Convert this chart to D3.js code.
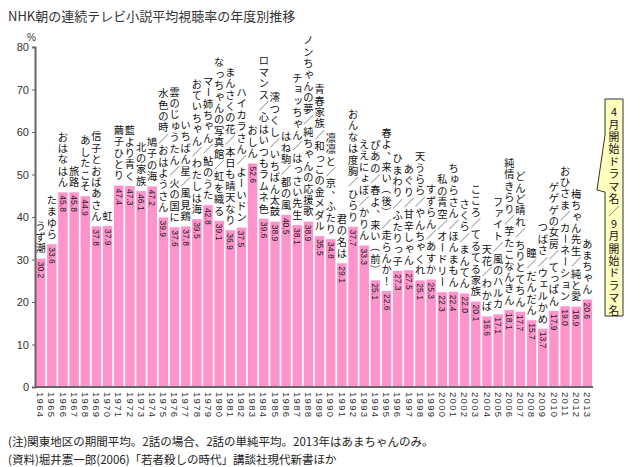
<!DOCTYPE html>
<html>
<head>
<meta charset="utf-8">
<script src="https://cdn.jsdelivr.net/npm/d3@7"></script>
<style>
    body { margin: 0; background: #fff; }
    svg { display: block; font-family: "Noto Sans CJK JP", sans-serif; }
</style>
</head>
<body>
<svg id="chart" width="640" height="467"></svg>
<script>
// 年度
const years = ['1964','1965','1966','1967','1968','1969','1970','1971','1972','1973',
    '1974','1975','1976','1977','1978','1979','1980','1981','1982','1983',
    '1984','1985','1986','1987','1988','1989','1990','1991','1992','1993',
    '1994','1995','1996','1997','1998','1999','2000','2001','2002','2003',
    '2004','2005','2006','2007','2008','2009','2010','2011','2012','2013'];

// 平均視聴率 (%)
const ratings = [30.2, 33.6, 45.8, 45.8, 44.9, 37.8, 37.9, 47.4, 47.3, 46.1,
    47.2, 39.9, 37.6, 37.8, 39.5, 42.8, 39.1, 36.9, 37.5, 52.6,
    39.6, 38.9, 40.5, 38.1, 38.9, 35.5, 34.8, 29.1, 37.7, 33.3,
    25.1, 22.6, 27.3, 27.5, 25.1, 25.3, 22.3, 22.4, 22.0, 20.1,
    16.6, 17.1, 18.1, 17.7, 15.7, 13.7, 17.9, 19.0, 18.9, 20.6];

// ドラマ名
const dramas = ['うず潮','たまゆら','おはなはん','旅路','あしたこそ','信子とおばあさん','虹',
    '繭子ひとり','藍より青く','北の家族','鳩子の海','水色の時／おはようさん',
    '雲のじゅうたん／火の国に','いちばん星／風見鶏','おていちゃん／わたしは海',
    'マー姉ちゃん／鮎のうた','なっちゃんの写真館／虹を織る','まんさくの花／本日も晴天なり',
    'ハイカラさん／よーいドン','おしん','ロマンス／心はいつもラムネ色','澪つくし／いちばん太鼓',
    'はね駒／都の風','チョッちゃん／はっさい先生','ノンちゃんの夢／純ちゃんの応援歌',
    '青春家族／和っこの金メダル','凛凛と／京、ふたり','君の名は','おんなは度胸／ひらり',
    'ええにょぼ／かりん','ぴあの／春よ、来い（前）','春よ、来い（後）／走らんか！',
    'ひまわり／ふたりっ子','あぐり／甘辛しゃん','天うらら／やんちゃくれ','すずらん／あすか',
    '私の青空／オードリー','ちゅらさん／ほんまもん','さくら／まんてん','こころ／てるてる家族',
    '天花／わかば','ファイト／風のハルカ','純情きらり／芋たこなんきん','どんど晴れ／ちりとてちん',
    '瞳／だんだん','つばさ／ウェルかめ','ゲゲゲの女房／てっぱん','おひさま／カーネーション',
    '梅ちゃん先生／純と愛','あまちゃん'];

const yTicks = [0, 10, 20, 30, 40, 50, 60, 70, 80];

const title = 'NHK朝の連続テレビ小説平均視聴率の年度別推移';
const legendText = '4月開始ドラマ名／9月開始ドラマ名';
const notes = [
    '(注)関東地区の期間平均。2話の場合、2話の単純平均。2013年はあまちゃんのみ。',
    '(資料)堀井憲一郎(2006)「若者殺しの時代」講談社現代新書ほか'
];

const svg = d3.select('#chart');
const margin = { left: 35, right: 47, top: 47, bottom: 80 };
const width = 640, height = 467;

const x = d3.scaleBand()
    .domain(years)
    .range([margin.left, width - margin.right])
    .paddingInner(0.15)
    .paddingOuter(0.08);

const y = d3.scaleLinear()
    .domain([0, 80])
    .range([height - margin.bottom, margin.top]);

// vertical (tategaki) text, one glyph per <text>
const rotateChars = 'ー（）';
const smallKana = 'ぁぃぅぇぉっゃゅょァィゥェォッャュョ';
function drawVertical(g, chars, cx, top, step, size) {
    g.selectAll('text')
        .data(Array.from(chars))
        .join('text')
        .attr('text-anchor', 'middle')
        .attr('dominant-baseline', 'central')
        .style('font-size', size + 'px')
        .attr('transform', (c, k) => {
            let px = cx, py = top + (k + 0.5) * step;
            if (c === '、') { px += size * 0.55; py -= size * 0.55; }
            if (smallKana.includes(c)) { px += size * 0.1; py -= size * 0.1; }
            const rot = rotateChars.includes(c) ? ' rotate(90)' : '';
            return `translate(${px},${py})${rot}`;
        })
        .text(c => c);
}

// title
svg.append('text')
    .attr('x', 8)
    .attr('y', 21)
    .style('font-size', '13px')
    .style('fill', '#333')
    .text(title);

// bars
svg.selectAll('rect.bar')
    .data(ratings)
    .join('rect')
    .attr('class', 'bar')
    .attr('x', (d, i) => x(years[i]))
    .attr('y', d => y(d))
    .attr('width', x.bandwidth())
    .attr('height', d => y(0) - y(d))
    .attr('fill', '#ff93cb');

// value labels
svg.selectAll('text.value')
    .data(ratings)
    .join('text')
    .attr('class', 'value')
    .attr('transform', (d, i) => `translate(${x(years[i]) + x.bandwidth() / 2},${y(d) + 3}) rotate(90)`)
    .attr('dy', '0.35em')
    .style('font-family', '"Liberation Sans", Arial, sans-serif')
    .style('font-size', '8.5px')
    .style('fill', '#222')
    .text(d => d.toFixed(1));

// drama names: column ends 5px above the bar
const charStep = 11.4;
svg.selectAll('g.drama')
    .data(dramas)
    .join('g')
    .attr('class', 'drama')
    .style('fill', '#111')
    .each(function(d, i) {
        const n = Array.from(d).length;
        const top = y(ratings[i]) - 5 - n * charStep;
        drawVertical(d3.select(this), d, x(years[i]) + x.bandwidth() / 2, top, charStep, 10.2);
    });

// y axis
const yAxis = d3.axisLeft(y)
    .tickValues(yTicks)
    .tickSize(3)
    .tickPadding(3);

const gy = svg.append('g')
    .attr('transform', `translate(${margin.left},0)`)
    .call(yAxis);
gy.select('.domain').attr('stroke', '#666').attr('stroke-width', 2);
gy.selectAll('.tick line').attr('stroke', '#666');
gy.selectAll('.tick text')
    .style('font-family', '"Liberation Sans", Arial, sans-serif')
    .style('font-size', '11px')
    .style('fill', '#333');

svg.append('text')
    .attr('x', 27)
    .attr('y', 41)
    .style('font-family', '"Liberation Sans", Arial, sans-serif')
    .style('font-size', '10px')
    .style('fill', '#333')
    .text('%');

// x axis
const xAxis = d3.axisBottom(x).tickSize(0).tickPadding(0);
const gx = svg.append('g')
    .attr('transform', `translate(0,${y(0)})`)
    .call(xAxis);
gx.select('.domain')
    .attr('stroke', '#666')
    .attr('stroke-width', 2)
    .attr('d', `M${margin.left},0H${width - margin.right}`);
gx.selectAll('.tick text')
    .attr('transform', 'translate(0,5) rotate(90)')
    .attr('x', 0)
    .attr('y', 0)
    .attr('dy', '0.35em')
    .attr('text-anchor', 'start')
    .style('font-family', '"Liberation Sans", Arial, sans-serif')
    .style('font-size', '9.5px')
    .style('letter-spacing', '1.3px')
    .style('fill', '#333');

// legend callout
const box = { x0: 605, x1: 623, y0: 99, y1: 316 };
svg.append('path')
    .attr('d', `M${box.x0},${box.y0}H${box.x1}V${box.y1}H${box.x0}V192L597,190L${box.x0},135Z`)
    .attr('fill', '#ffffc0')
    .attr('stroke', '#333')
    .attr('stroke-width', 1);

drawVertical(svg.append('g').style('fill', '#111'), legendText,
    (box.x0 + box.x1) / 2, box.y0 + 6, 12.4, 10.8);

// notes
svg.selectAll('text.note')
    .data(notes)
    .join('text')
    .attr('class', 'note')
    .attr('x', 8)
    .attr('y', (d, i) => 446 + i * 18)
    .style('font-size', '11.5px')
    .style('fill', '#222')
    .text(d => d);
</script>
</body>
</html>
